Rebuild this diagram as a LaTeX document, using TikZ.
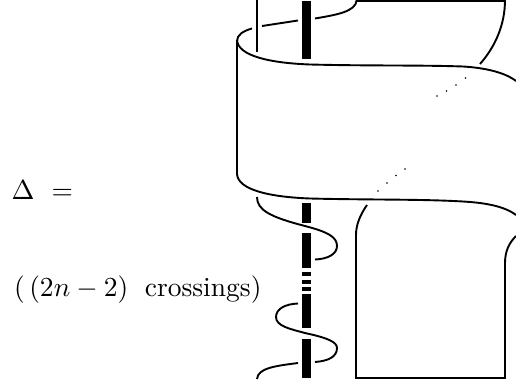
\documentclass[tikz,border=0pt]{standalone}
\begin{document}
\begin{tikzpicture}[x=1pt,y=-1pt,
  strand/.style={line width=1.9pt,line cap=butt},
  bar/.style={line width=8.6pt,line cap=butt},
  label/.style={anchor=base west,inner sep=0pt,scale=2.75,font=\fontsize{10}{12}\selectfont},
  dotmark/.style={circle,fill=black,inner sep=0pt,minimum size=1.6pt}]
\useasboundingbox (0,0) rectangle (516,385);
\clip (0,0) rectangle (516,385);
% text
\node[label] (delta) at (11,199) {$\Delta$};
\node[label] (eq) at (51,199) {$=$};
\node[label] (cross) at (13.5,296) {$(\,(2n-2)$\hspace{0.6em}crossings$)$};
% thin strand and thick bar
\draw[line width=2.2pt] (257,0) -- (257,52.5);
\foreach \a/\b in {1/59.5,203/223,233/268,272/276,280/284,287/291,294/328,339/378}
  \draw[bar] (306.7,\a) -- (306.7,\b);
% top sheet
\draw[strand] (505,0) .. controls (505,25) and (495,47) .. (480,64);
\draw[strand] (357,1) -- (505.5,1);
\draw[strand] (356.7,0) .. controls (356,12) and (335,15) .. (315,18.5);
\draw[strand] (298,20.5) -- (262,26);
\draw[strand] (252,28.5) .. controls (243,31) and (237,35) .. (237,41);
% band
\draw[strand] (237,40) -- (237,174);
\draw[strand] (237,40) .. controls (238,56) and (270,63) .. (310,64.5) .. controls (370,66) and (420,65) .. (463,66.5) .. controls (480,67.5) and (503,71) .. (516,81);
\draw[strand] (237,174) .. controls (238,190) and (270,197) .. (310,198.5) .. controls (370,200) and (420,199) .. (463,201.5) .. controls (480,202.5) and (503,205) .. (516,215);
% lower strands
\draw[strand] (257,197) .. controls (257,210) and (270,217) .. (305,226) .. controls (328,232) and (337,237) .. (337,246) .. controls (337,254) and (328,259) .. (315,259.5);
\draw[strand] (298,303.5) .. controls (285,304) and (276,309) .. (276,317) .. controls (276,326) and (290,329) .. (305,333) .. controls (328,338) and (337,342) .. (337,348) .. controls (337,357) and (328,361) .. (315,362);
\draw[strand] (298,363) .. controls (275,366) and (258,368) .. (257,379);
% lower box
\draw[strand] (367,205) .. controls (360,215) and (356,225) .. (356,235) -- (356,378) -- (505,378) -- (505,263) .. controls (505,250) and (510,242) .. (516,236);
% dots
\foreach \p/\q in {437/96,446.5/91,456/85,465.5/78,378/191,387/183,396/175.5,405/169}
  \node[dotmark] at (\p,\q) {};
\end{tikzpicture}
\end{document}
